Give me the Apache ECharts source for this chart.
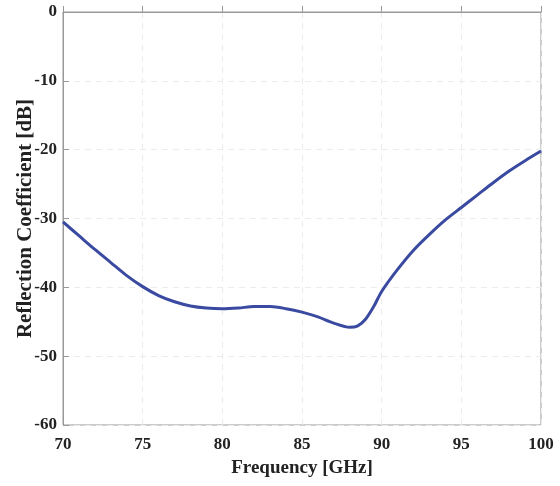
<!DOCTYPE html>
<html><head><meta charset="utf-8">
<script src="https://cdn.jsdelivr.net/npm/echarts@6/dist/echarts.min.js"></script>
<style>html,body{margin:0;padding:0;background:#fff}#c{width:560px;height:486px}</style>
</head><body><div id="c"></div>
<script>
const freq = [70,71,72,73,74,75,76,77,78,79,80,81,82,83,84,85,86,87,88,88.5,89,89.5,90,91,92,93,94,95,96,97,98,99,100];
const refl = [-30.5,-32.5,-34.5,-36.4,-38.3,-39.9,-41.2,-42.1,-42.7,-43.0,-43.1,-43.0,-42.8,-42.8,-43.1,-43.6,-44.3,-45.2,-45.8,-45.6,-44.6,-42.8,-40.6,-37.4,-34.6,-32.3,-30.2,-28.4,-26.6,-24.8,-23.1,-21.6,-20.2];
const xTicks = [70,75,80,85,90,95,100];
const yTicks = [0,-10,-20,-30,-40,-50,-60];
const chart = echarts.init(document.getElementById('c'));
const font = {fontFamily:'Liberation Serif', fontWeight:'bold', fontSize:17, color:'#222'};
chart.setOption({
  animation:false,
  grid:{left:63,right:19,top:12,bottom:61,show:true,borderColor:'#999',borderWidth:1,backgroundColor:'#fff',outerBoundsMode:'none',containLabel:false},
  xAxis:{type:'value',min:70,max:100,interval:5,
    name:'Frequency [GHz]',nameLocation:'middle',nameGap:34,nameMoveOverlap:false,nameTextStyle:Object.assign({},font,{fontSize:19}),
    axisLine:{lineStyle:{color:'#999'}},axisTick:{inside:true,length:6,lineStyle:{color:'#999'}},
    axisLabel:Object.assign({},font,{margin:11}),
    splitLine:{show:true,lineStyle:{color:'#ececec',type:[6,5]}}},
  yAxis:{type:'value',min:-60,max:0,interval:10,
    name:'Reflection Coefficient [dB]',nameLocation:'middle',nameGap:27,nameMoveOverlap:false,nameTextStyle:Object.assign({},font,{fontSize:21}),
    axisLine:{show:true,lineStyle:{color:'#999'}},axisTick:{show:true,inside:true,length:6,lineStyle:{color:'#999'}},
    axisLabel:Object.assign({},font,{margin:6}),
    splitLine:{show:true,lineStyle:{color:'#ececec',type:[6,5]}}},
  series:[{type:'line',data:freq.map((f,i)=>[f,refl[i]]),smooth:0.3,showSymbol:false,
    lineStyle:{color:'#3a4aa0',width:3}}]
});
</script></body></html>
